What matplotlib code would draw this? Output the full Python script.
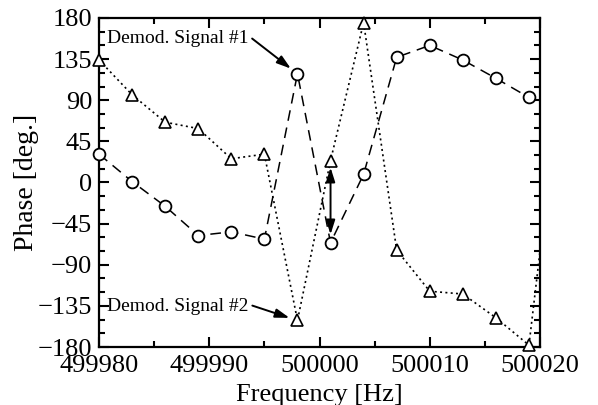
import matplotlib
matplotlib.use("Agg")
import matplotlib.pyplot as plt
from matplotlib.ticker import MultipleLocator

plt.rcParams['font.family'] = ['Liberation Serif', 'DejaVu Serif']

freq = [499980, 499983, 499986, 499989, 499992, 499995, 499998, 500001,
        500004, 500007, 500010, 500013, 500016, 500019, 500022]
signal1 = [31, 1, -26, -58, -54, -62, 119, -66, 9, 137, 150, 134, 114, 93, 80]
signal2 = [134, 96, 66, 59, 26, 31, -151, 24, 175, -74, -119, -122, -148, -178, 130]

xticks = [499980, 499990, 500000, 500010, 500020]
yticks = [-180, -135, -90, -45, 0, 45, 90, 135, 180]

fig = plt.figure(figsize=(5.98, 4.05), dpi=100)
ax = fig.add_axes([0.1656, 0.1432, 0.903 - 0.1656, 0.9556 - 0.1432])

ax.plot(freq, signal1, color='black', lw=1.1, dashes=(7, 4.5))
ax.plot(freq, signal2, color='black', lw=1.2, dashes=(1.2, 2.0))

inside = [i for i, f in enumerate(freq) if xticks[0] <= f <= xticks[-1]]
ax.plot([freq[i] for i in inside], [signal1[i] for i in inside], ls='none',
        marker='o', ms=8.5, mfc='white', mec='black', mew=1.3, clip_on=False, zorder=5)
ax.plot([freq[i] for i in inside], [signal2[i] for i in inside], ls='none',
        marker='^', ms=8, mfc='white', mec='black', mew=1.2, clip_on=False, zorder=5)

ax.set_xlim(xticks[0], xticks[-1])
ax.set_ylim(yticks[0], yticks[-1])
ax.set_xticks(xticks)
ax.set_yticks(yticks)
ax.set_xticklabels([str(t) for t in xticks])
ax.xaxis.set_minor_locator(MultipleLocator(5))
ax.yaxis.set_minor_locator(MultipleLocator(15))
ax.tick_params(which='both', direction='in', top=True, right=True, width=1.5,
               labelsize=19)
ax.tick_params(axis='x', which='both', pad=6)
ax.tick_params(axis='y', which='both', pad=5)
ax.tick_params(which='major', length=7)
ax.tick_params(which='minor', length=4)
for s in ax.spines.values():
    s.set_linewidth(1.6)

ax.set_xlabel('Frequency [Hz]', fontsize=19, labelpad=5)
ax.set_ylabel('Phase [deg.]', fontsize=20, labelpad=-1)

head = '-|>,head_length=0.85,head_width=0.27'
arrowprops = dict(arrowstyle=head, color='black', lw=1.4, mutation_scale=10,
                  shrinkA=1, shrinkB=6, relpos=(1.0, 0.65))
ax.annotate('Demod. Signal #1', xy=(499998, 119), xytext=(499980.7, 158),
            fontsize=14, va='center', ha='left', arrowprops=arrowprops)
ax.annotate('Demod. Signal #2', xy=(499998, -151), xytext=(499980.7, -136),
            fontsize=14, va='center', ha='left', arrowprops=arrowprops)
ax.annotate('', xy=(500001, 24), xytext=(500001, -66),
            arrowprops=dict(arrowstyle='<|-|>,head_length=0.85,head_width=0.27',
                            color='black', lw=1.4, mutation_scale=10,
                            shrinkA=6, shrinkB=5))

fig.savefig('out.png', dpi=100)
